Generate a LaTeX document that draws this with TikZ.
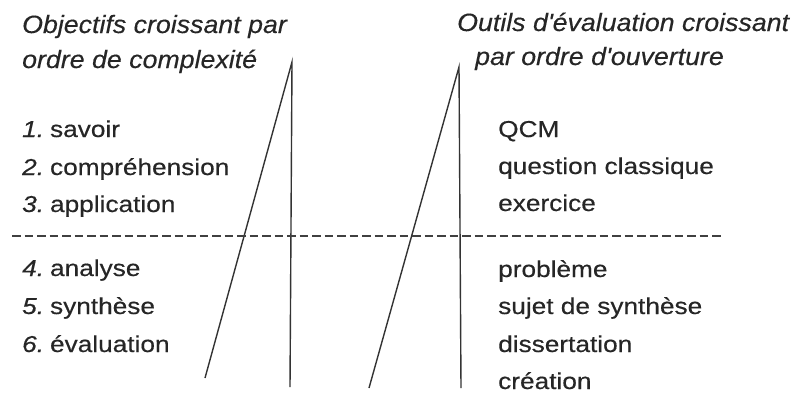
\documentclass[tikz,border=0pt]{standalone}
\usepackage{fontspec}
\setmainfont{Liberation Sans}[FakeStretch=1.07, FakeBold=0.3]
\newfontfamily\itemfont{Liberation Sans}[FakeStretch=1.14, FakeBold=0.4]
\usetikzlibrary{positioning}
\newcommand{\num}[1]{{\itshape #1}\hspace{6pt}}

\begin{document}
\begin{tikzpicture}[x=1pt, y=-1pt, every node/.style={text=black!85},
  head/.style={anchor=base west, inner sep=0pt, font=\fontsize{25}{30}\selectfont\itshape},
  item/.style={anchor=base west, inner sep=0pt, font=\itemfont\fontsize{23}{27}\selectfont},
  wedge/.style={line width=1.4pt, draw=black!80},
  sep/.style={line width=2pt, draw=black!75, dash pattern=on 8.5pt off 4pt}]
\useasboundingbox (0,0) rectangle (794,397);
% headings
\node[head] (objA) at (22,33) {Objectifs croissant par};
\node[head] (objB) at (22,68) {ordre de complexit\'e};
\node[head] (outA) at (457,31) {Outils d\textquotesingle\'evaluation croissant};
\node[head] (outB) at (475,65) {par ordre d\textquotesingle ouverture};
% objectives
\node[item] (sav) at (22,137) {\num{1.}savoir};
\node[item] (comp) at (22,175) {\num{2.}compr\'ehension};
\node[item] (appl) at (22,212) {\num{3.}application};
\node[item] (anal) at (22,276) {\num{4.}analyse};
\node[item] (synt) at (22,314) {\num{5.}synth\`ese};
\node[item] (eval) at (22,352) {\num{6.}\'evaluation};
% tools
\node[item] (qcm) at (498,137) {QCM};
\node[item] (quest) at (498,174) {question classique};
\node[item] (exer) at (498,211) {exercice};
\node[item] (prob) at (498,277) {probl\`eme};
\node[item] (sujet) at (498,314) {sujet de synth\`ese};
\node[item] (diss) at (498,352) {dissertation};
\node[item] (crea) at (498,389) {cr\'eation};
% wedges
\coordinate (apexL) at (292,62);
\coordinate (vertL) at (290,387);
\coordinate (slantL) at (205,378);
\coordinate (apexR) at (459,67);
\coordinate (vertR) at (461,388);
\coordinate (slantR) at (369,388);
\draw[wedge] (slantL) -- (apexL) -- (vertL);
\draw[wedge] (slantR) -- (apexR) -- (vertR);
% separation
\coordinate (sepW) at (12,236);
\coordinate (sepE) at (722,236);
\draw[sep] (sepW) -- (sepE);
\end{tikzpicture}
\end{document}
